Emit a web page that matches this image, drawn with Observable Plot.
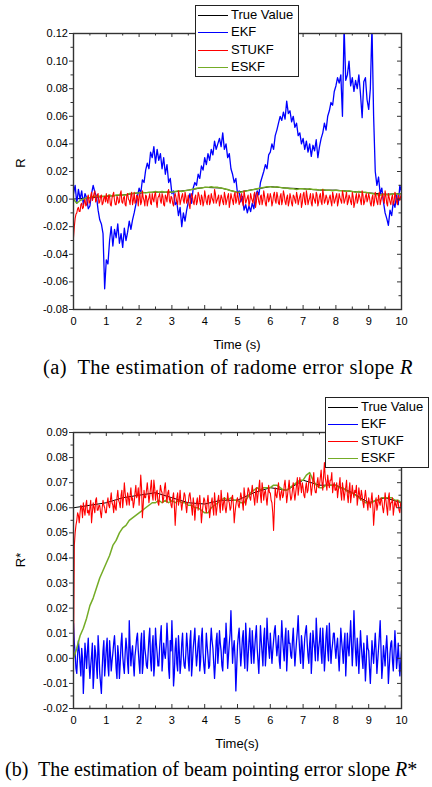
<!DOCTYPE html>
<html><head><meta charset="utf-8">
<script src="https://cdn.jsdelivr.net/npm/d3@7"></script>
<script src="https://cdn.jsdelivr.net/npm/@observablehq/plot@0.6"></script>
<style>
body{margin:0;background:#fff;}
#fig{position:relative;width:432px;height:787px;overflow:hidden;font-family:"Liberation Sans",Arial,sans-serif;color:#000;}
.panel{position:absolute;left:0;}
.legend{position:absolute;border:1px solid #222;background:#fff;box-sizing:border-box;}
.lrow{position:absolute;left:0;height:16px;width:100%;}
.lline{position:absolute;left:2px;width:30px;top:8px;height:0;border-top:1.6px solid;}
.ltext{position:absolute;left:35px;top:0;font-size:13px;line-height:16px;white-space:nowrap;}
.ylab{position:absolute;font-size:13px;transform:translate(-50%,-50%) rotate(-90deg);white-space:nowrap;}
.xlab{position:absolute;font-size:13px;transform:translate(-50%,-50%);white-space:nowrap;}
.cap{position:absolute;font-family:"Liberation Serif","Times New Roman",serif;font-size:20.5px;letter-spacing:0.35px;white-space:nowrap;transform:translateY(-50%);}
.cap.tight{font-size:20px;letter-spacing:0;}
</style></head>
<body><div id="fig"></div>
<script>
// ---------- data ----------
const seriesNames = ["True Value", "EKF", "STUKF", "ESKF"];
const seriesColors = ["#000000", "#0000ff", "#ff0000", "#74ac26"];
const xTicks = [0,1,2,3,4,5,6,7,8,9,10];
const xMinor = [0.5,1.5,2.5,3.5,4.5,5.5,6.5,7.5,8.5,9.5];
const yTicksA = [-0.08,-0.06,-0.04,-0.02,0,0.02,0.04,0.06,0.08,0.10,0.12];
const yMinorA = [-0.07,-0.05,-0.03,-0.01,0.01,0.03,0.05,0.07,0.09,0.11];
const yTicksB = [-0.02,-0.01,0,0.01,0.02,0.03,0.04,0.05,0.06,0.07,0.08,0.09];
const yMinorB = [-0.015,-0.005,0.005,0.015,0.025,0.035,0.045,0.055,0.065,0.075,0.085];

// panel (a): radome error slope R  (true value every 0.5 s)
const trueA = [0.000,0.001,0.002,0.003,0.0045,0.005,0.005,0.0065,0.0085,0.008,0.005,0.007,0.009,0.008,0.0075,0.0065,0.0065,0.0055,0.0045,0.0035,0.004];
// EKF every 0.05 s
const ekfA = [
 0.004,0.010,-0.003,0.007,0.000,0.006,-0.004,0.004,0.001,-0.007,-0.005,0.004,0.010,0.005,0.002,-0.008,-0.015,-0.018,-0.025,-0.065,
 -0.044,-0.047,-0.030,-0.020,-0.034,-0.022,-0.028,-0.018,-0.032,-0.025,-0.035,-0.021,-0.030,-0.024,-0.016,-0.022,-0.015,-0.010,-0.004,0.002,
 0.008,0.004,0.014,0.012,0.021,0.026,0.022,0.034,0.030,0.038,0.026,0.036,0.028,0.033,0.022,0.030,0.018,0.025,0.012,0.015,
 0.004,0.006,-0.004,-0.002,-0.012,-0.006,-0.020,-0.010,-0.016,-0.008,-0.002,0.004,-0.003,0.008,0.012,0.010,0.018,0.015,0.024,0.021,
 0.030,0.025,0.033,0.028,0.036,0.032,0.042,0.036,0.040,0.044,0.038,0.048,0.036,0.040,0.030,0.033,0.022,0.018,0.012,0.015,
 0.004,0.006,-0.002,0.002,-0.008,-0.004,-0.010,-0.005,-0.009,-0.003,-0.007,0.002,0.006,0.003,0.012,0.016,0.020,0.025,0.022,0.032,
 0.034,0.040,0.036,0.046,0.050,0.055,0.060,0.057,0.063,0.058,0.071,0.062,0.064,0.056,0.060,0.052,0.055,0.046,0.048,0.040,
 0.044,0.036,0.042,0.034,0.040,0.031,0.039,0.035,0.043,0.030,0.038,0.044,0.048,0.055,0.050,0.060,0.064,0.070,0.068,0.078,
 0.082,0.088,0.084,0.090,0.060,0.125,0.086,0.090,0.100,0.082,0.088,0.078,0.086,0.080,0.090,0.076,0.059,0.085,0.088,0.072,
 0.065,0.080,0.125,0.060,0.020,0.010,0.016,0.004,0.008,-0.002,-0.010,-0.014,-0.019,-0.008,-0.012,-0.002,-0.006,0.003,-0.004,0.010,
 0.005];
// STUKF every 0.025 s
const stukfA = [
 -0.028,-0.020,-0.014,-0.011,-0.010,-0.007,-0.006,-0.009,-0.009,-0.004,-0.003,-0.007,-0.006,-0.002,0.000,-0.005,-0.004,0.001,0.003,-0.003,
 -0.002,0.002,0.005,-0.001,0.001,0.004,0.006,-0.002,-0.001,0.003,0.004,-0.003,-0.002,0.002,0.003,-0.004,-0.003,0.001,0.002,-0.002,
 0.004,-0.001,-0.003,0.003,0.002,-0.004,-0.005,0.001,0.003,0.005,-0.001,-0.004,-0.004,0.002,0.001,-0.003,-0.002,0.004,0.006,-0.002,
 -0.003,0.001,0.002,-0.004,-0.005,0.003,0.004,0.000,-0.001,-0.004,0.003,0.005,-0.004,-0.001,0.005,-0.003,-0.002,0.003,0.002,-0.005,
 0.002,0.004,-0.004,-0.002,0.006,0.001,-0.001,-0.005,0.003,0.002,-0.005,-0.001,0.001,0.004,-0.003,-0.004,0.004,0.000,-0.002,0.003,
 0.005,-0.002,-0.006,0.001,0.002,0.004,-0.001,-0.003,0.004,0.002,-0.004,-0.005,0.003,0.001,-0.002,0.005,0.007,-0.001,-0.003,0.002,
 0.001,-0.003,-0.005,0.002,0.004,0.001,-0.002,-0.004,0.006,0.003,-0.004,-0.001,0.002,0.004,-0.001,-0.003,0.005,0.002,-0.003,-0.001,
 0.003,-0.004,-0.007,0.000,0.004,0.002,-0.002,-0.004,0.001,0.003,-0.004,-0.002,0.005,0.003,-0.001,-0.004,0.003,0.001,-0.005,-0.002,
 0.006,0.002,-0.002,-0.004,0.002,0.003,-0.004,-0.002,0.004,0.001,-0.001,-0.003,0.007,0.004,-0.003,-0.001,0.001,0.003,-0.005,-0.002,
 0.003,0.001,-0.002,-0.004,0.005,0.002,-0.004,-0.001,0.002,0.004,-0.006,-0.002,0.004,0.001,-0.001,-0.004,0.003,0.005,-0.003,-0.001,
 0.005,0.001,-0.004,-0.002,0.002,0.004,-0.002,-0.005,0.006,0.002,-0.003,-0.001,0.001,0.003,-0.005,-0.002,0.004,0.001,-0.001,-0.003,
 0.003,0.005,-0.006,-0.002,0.005,0.002,-0.002,-0.004,0.002,0.003,-0.004,-0.001,0.006,0.002,-0.003,-0.005,0.001,0.004,-0.002,0.000,
 0.004,0.001,-0.005,-0.002,0.003,0.005,-0.001,-0.003,0.005,0.002,-0.003,-0.004,0.002,0.004,-0.004,-0.001,0.006,0.003,-0.002,-0.004,
 0.001,0.003,-0.005,-0.002,0.004,0.001,-0.003,-0.005,0.003,0.002,-0.001,-0.003,0.005,0.002,-0.004,-0.001,0.002,0.004,-0.006,-0.003,
 0.003,0.005,-0.002,-0.004,0.006,0.002,-0.004,-0.001,0.001,0.004,-0.003,-0.005,0.004,0.001,-0.001,-0.003,0.005,0.003,-0.005,-0.002,
 0.002,0.004,-0.002,-0.004,0.007,0.003,-0.003,-0.001,0.003,0.001,-0.004,-0.002,0.001,0.003,-0.002,-0.005,0.005,0.002,-0.003,-0.001,
 0.002,0.004,-0.005,-0.002,0.004,0.001,-0.001,-0.003,0.006,0.003,-0.003,-0.001,0.002,0.005,-0.004,-0.002,0.003,0.001,-0.002,-0.004,
 0.005,0.002,-0.006,-0.003,0.001,0.004,-0.003,-0.001,0.004,0.002,-0.001,-0.004,0.006,0.003,-0.004,-0.002,0.002,0.004,-0.002,0.000,
 0.004,0.001,-0.003,-0.005,0.001,0.003,-0.005,-0.002,0.005,0.002,-0.002,-0.004,0.003,0.005,-0.004,-0.001,0.002,0.004,-0.001,-0.003,
 0.006,0.002,-0.003,-0.005,0.004,0.001,-0.002,-0.004,0.001,0.003,-0.004,-0.002,0.005,0.002,-0.002,-0.004,0.003,0.001,-0.001,0.002,
 0.004];
// ESKF every 0.1 s
const eskfA = [
 0.000,-0.003,-0.001,0.000,0.001,0.001,0.002,0.002,0.002,0.002,
 0.002,0.003,0.002,0.003,0.003,0.003,0.003,0.004,0.004,0.0045,
 0.0045,0.005,0.0045,0.005,0.005,0.0055,0.005,0.0055,0.005,0.0055,
 0.005,0.0055,0.006,0.0055,0.006,0.0065,0.007,0.0075,0.008,0.008,
 0.0085,0.0085,0.009,0.0085,0.0085,0.008,0.0075,0.007,0.006,0.0055,
 0.005,0.005,0.0055,0.006,0.0065,0.007,0.0075,0.008,0.0085,0.009,
 0.009,0.0085,0.009,0.0085,0.008,0.008,0.0075,0.0075,0.007,0.0075,
 0.0075,0.007,0.0075,0.007,0.007,0.0065,0.007,0.0065,0.0065,0.006,
 0.0065,0.006,0.006,0.0055,0.006,0.0055,0.005,0.0055,0.005,0.005,
 0.0045,0.004,0.0035,0.003,0.003,0.0035,0.003,0.0035,0.004,0.0035,
 0.004];

// panel (b): beam pointing error slope R*
const trueB = [0.060,0.061,0.062,0.064,0.065,0.066,0.064,0.062,0.0615,0.063,0.063,0.066,0.068,0.067,0.071,0.069,0.069,0.066,0.062,0.064,0.062];
// EKF every 0.025 s
const ekfB = [
 0.014,0.006,0.002,-0.004,-0.006,0.001,0.007,0.003,-0.002,-0.007,0.004,0.000,-0.014,-0.005,0.006,0.001,-0.004,0.003,0.008,-0.002,
 -0.008,-0.003,0.001,0.006,-0.012,-0.006,0.005,0.002,-0.003,-0.008,0.009,0.003,-0.006,-0.010,-0.014,-0.004,0.003,0.007,-0.007,-0.002,
 0.004,0.008,-0.003,-0.007,0.007,0.002,-0.005,-0.001,0.002,0.006,0.009,0.003,-0.004,-0.008,0.005,0.001,-0.008,-0.002,0.006,0.010,
 0.001,-0.003,-0.006,0.002,0.008,0.004,-0.002,-0.006,0.015,0.005,-0.003,0.002,0.005,-0.002,-0.007,0.001,0.004,0.008,0.010,0.003,
 -0.002,-0.006,0.006,0.010,-0.006,-0.002,0.011,0.004,0.001,-0.003,-0.004,0.002,0.008,0.012,-0.001,-0.005,0.005,0.009,-0.007,-0.002,
 0.012,0.006,0.002,-0.003,-0.003,0.004,0.009,0.013,-0.005,0.000,0.006,0.002,0.000,0.005,0.014,0.007,-0.004,-0.008,0.007,0.003,
 0.015,0.004,-0.011,-0.006,0.004,0.008,-0.002,-0.005,0.009,0.003,-0.006,-0.002,0.006,0.010,0.001,-0.003,-0.004,0.002,0.010,0.005,
 -0.001,-0.005,0.007,0.011,-0.007,-0.002,0.004,0.008,0.012,0.003,-0.003,0.001,0.006,0.009,-0.005,-0.001,0.008,0.012,0.002,-0.003,
 -0.006,0.001,0.010,0.005,0.001,-0.004,-0.003,0.006,0.012,0.007,0.004,-0.002,-0.008,-0.002,0.007,0.010,-0.002,0.003,0.011,0.006,
 0.003,-0.003,-0.005,0.004,0.008,0.002,0.014,0.007,-0.004,0.001,0.006,0.010,0.019,0.008,-0.002,0.004,0.007,0.000,-0.013,-0.004,
 0.005,0.009,0.012,0.004,-0.003,0.002,0.008,0.011,0.001,-0.004,0.014,0.007,-0.005,0.001,0.007,0.012,0.003,-0.002,0.011,0.005,
 -0.002,0.004,0.009,0.013,0.004,-0.001,-0.006,0.003,0.013,0.007,0.002,-0.003,0.008,0.012,-0.003,0.002,0.016,0.008,0.004,0.000,
 0.010,0.004,-0.002,0.003,0.007,0.011,0.013,0.006,0.001,0.005,0.009,-0.001,-0.004,0.006,0.015,0.008,0.003,-0.001,0.008,0.012,
 -0.005,0.002,0.011,0.006,0.006,0.001,0.000,0.007,0.012,0.004,-0.003,0.002,0.007,0.011,0.017,0.008,0.002,-0.002,0.009,0.005,
 -0.004,0.002,0.008,0.011,0.013,0.006,0.001,-0.002,0.006,0.010,-0.006,0.001,0.011,0.007,0.004,-0.001,0.016,0.009,-0.001,0.004,
 0.007,0.012,0.002,-0.002,0.012,0.005,-0.005,0.001,0.009,0.013,0.003,-0.001,0.014,0.006,-0.002,0.003,0.006,0.010,0.010,0.004,
 0.000,0.005,0.008,0.001,-0.005,0.003,0.012,0.007,0.003,-0.002,0.006,0.010,-0.007,0.001,0.010,0.004,0.001,0.008,0.015,0.006,
 -0.003,0.005,0.019,0.009,0.002,-0.003,0.008,0.003,-0.006,0.002,0.011,0.005,0.000,-0.004,0.006,0.001,-0.009,-0.002,0.009,0.004,
 0.003,-0.004,-0.010,-0.002,0.007,0.002,-0.002,0.004,0.010,0.003,-0.006,-0.001,0.004,0.009,0.015,0.004,-0.008,-0.003,0.005,0.001,
 -0.003,0.004,0.009,0.002,-0.010,-0.004,0.002,0.006,0.007,-0.001,-0.005,0.003,0.011,0.004,-0.004,0.000,0.006,-0.001,-0.007,-0.002,
 0.003];
// STUKF every 0.025 s
const stukfB = [
 0.000,0.045,0.050,0.053,0.055,0.058,0.057,0.054,0.058,0.061,0.060,0.056,0.062,0.059,0.057,0.061,0.063,0.058,0.059,0.057,
 0.060,0.063,0.054,0.058,0.062,0.060,0.058,0.063,0.064,0.059,0.059,0.061,0.061,0.058,0.056,0.060,0.063,0.061,0.060,0.058,
 0.058,0.062,0.064,0.061,0.060,0.063,0.066,0.062,0.061,0.058,0.063,0.060,0.059,0.064,0.067,0.063,0.062,0.060,0.065,0.067,
 0.060,0.064,0.070,0.066,0.063,0.061,0.066,0.064,0.061,0.065,0.068,0.063,0.064,0.060,0.062,0.066,0.069,0.064,0.065,0.068,
 0.061,0.066,0.073,0.068,0.056,0.061,0.067,0.064,0.064,0.067,0.070,0.066,0.062,0.065,0.068,0.071,0.065,0.063,0.071,0.068,
 0.063,0.066,0.067,0.062,0.061,0.065,0.069,0.067,0.066,0.062,0.064,0.068,0.070,0.065,0.062,0.066,0.067,0.063,0.064,0.061,
 0.060,0.064,0.066,0.061,0.053,0.059,0.064,0.066,0.061,0.063,0.067,0.062,0.059,0.062,0.063,0.066,0.065,0.061,0.058,0.062,
 0.062,0.065,0.066,0.063,0.060,0.057,0.064,0.061,0.055,0.060,0.062,0.064,0.059,0.062,0.065,0.060,0.054,0.058,0.061,0.064,
 0.063,0.060,0.058,0.062,0.065,0.061,0.056,0.059,0.062,0.064,0.060,0.057,0.066,0.062,0.057,0.060,0.063,0.065,0.061,0.058,
 0.067,0.063,0.059,0.062,0.064,0.060,0.058,0.061,0.066,0.063,0.062,0.059,0.060,0.064,0.065,0.061,0.054,0.058,0.061,0.063,
 0.064,0.061,0.060,0.063,0.066,0.064,0.062,0.059,0.068,0.065,0.061,0.063,0.065,0.068,0.067,0.064,0.063,0.066,0.069,0.066,
 0.064,0.061,0.066,0.068,0.062,0.065,0.068,0.071,0.065,0.062,0.070,0.067,0.063,0.066,0.067,0.064,0.061,0.065,0.069,0.066,
 0.066,0.063,0.062,0.058,0.051,0.060,0.068,0.065,0.064,0.067,0.070,0.066,0.063,0.066,0.067,0.064,0.065,0.069,0.071,0.067,
 0.062,0.065,0.068,0.071,0.066,0.063,0.064,0.067,0.070,0.066,0.063,0.066,0.069,0.072,0.065,0.068,0.072,0.069,0.066,0.070,
 0.068,0.065,0.064,0.068,0.070,0.066,0.067,0.071,0.073,0.069,0.065,0.068,0.071,0.074,0.068,0.066,0.066,0.070,0.072,0.068,
 0.069,0.072,0.075,0.070,0.067,0.073,0.078,0.072,0.070,0.067,0.073,0.070,0.068,0.071,0.071,0.074,0.066,0.069,0.070,0.067,
 0.067,0.070,0.064,0.067,0.069,0.072,0.066,0.063,0.070,0.067,0.063,0.066,0.068,0.071,0.065,0.062,0.067,0.070,0.062,0.065,
 0.069,0.066,0.064,0.067,0.066,0.069,0.061,0.064,0.068,0.065,0.063,0.067,0.065,0.062,0.060,0.064,0.067,0.064,0.062,0.059,
 0.064,0.062,0.060,0.063,0.066,0.061,0.053,0.058,0.062,0.064,0.059,0.061,0.065,0.062,0.061,0.064,0.063,0.060,0.058,0.061,
 0.066,0.063,0.060,0.057,0.064,0.066,0.059,0.062,0.062,0.064,0.057,0.060,0.063,0.061,0.060,0.063,0.062,0.059,0.058,0.062,
 0.061];
// ESKF every 0.1 s
const eskfB = [
 0.000,0.004,0.009,0.012,0.016,0.021,0.024,0.028,0.032,0.035,
 0.038,0.041,0.045,0.047,0.050,0.052,0.053,0.055,0.056,0.057,
 0.058,0.059,0.060,0.061,0.062,0.062,0.063,0.062,0.063,0.062,
 0.063,0.062,0.063,0.062,0.062,0.061,0.061,0.060,0.060,0.059,
 0.058,0.058,0.060,0.061,0.062,0.063,0.064,0.063,0.064,0.063,
 0.063,0.062,0.062,0.064,0.066,0.067,0.068,0.067,0.068,0.068,
 0.068,0.069,0.069,0.068,0.067,0.067,0.068,0.069,0.070,0.071,
 0.071,0.073,0.074,0.071,0.069,0.068,0.068,0.069,0.069,0.069,
 0.069,0.068,0.068,0.067,0.066,0.066,0.065,0.064,0.063,0.062,
 0.062,0.062,0.063,0.063,0.064,0.064,0.064,0.064,0.063,0.063,
 0.062];

// ---------- drawing ----------
const rows = arr => arr.map((v, i) => ({t: i * 10 / (arr.length - 1), v}));
const AX = "#333";

function panel({yDomain, yTicks, yMinor, series, height, marginTop, marginBottom}) {
  const marginLeft = 73, marginRight = 31, width = 432;
  const pw = width - marginLeft - marginRight, ph = height - marginTop - marginBottom;
  return Plot.plot({
    width, height, marginLeft, marginRight, marginTop, marginBottom,
    x: {domain: [0, 10]},
    y: {domain: yDomain},
    style: {fontFamily: '"Liberation Sans", Arial, sans-serif', fontSize: "11px", color: "#000", background: "transparent"},
    marks: [
      ...series.map(s => Plot.line(rows(s.data), {x: "t", y: "v", stroke: s.color, strokeWidth: s.w, clip: true})),
      Plot.frame({stroke: AX, strokeWidth: 1.4}),
      Plot.axisY(yTicks, {anchor: "left", tickSize: 4, tickPadding: 1.5, tickFormat: d => d.toFixed(2), stroke: AX, fill: "#000", label: null}),
      Plot.axisY(yMinor, {anchor: "left", tickSize: 2.5, fill: "none", stroke: AX, label: null}),
      Plot.tickY(yTicks, {y: d => d, insetLeft: pw - 4, stroke: AX}),
      Plot.tickY(yMinor, {y: d => d, insetLeft: pw - 2.5, stroke: AX}),
      Plot.tickX(xTicks, {x: d => d, insetBottom: ph - 4, stroke: AX}),
      Plot.tickX(xMinor, {x: d => d, insetBottom: ph - 2.5, stroke: AX}),
      Plot.tickX(xTicks, {x: d => d, insetTop: ph - 4, stroke: AX}),
      Plot.tickX(xMinor, {x: d => d, insetTop: ph - 2.5, stroke: AX}),
      Plot.axisX(xTicks, {anchor: "bottom", tickSize: 0, tickPadding: 8, tickFormat: d => String(d), fill: "#000", label: null})
    ]
  });
}

const fig = document.getElementById("fig");

function place(el, top) {
  const d = document.createElement("div");
  d.className = "panel"; d.style.top = top + "px";
  d.appendChild(el); fig.appendChild(d);
}

const widths = [1, 1.3, 1.1, 1.5];
const orderIdx = [0, 1, 3, 2]; // True, EKF, ESKF, STUKF (STUKF on top)

const dataA = [trueA, ekfA, stukfA, eskfA];
const dataB = [trueB, ekfB, stukfB, eskfB];

place(panel({
  yDomain: [-0.08, 0.12], yTicks: yTicksA, yMinor: yMinorA,
  series: orderIdx.map(i => ({data: dataA[i], color: seriesColors[i], w: widths[i]})),
  height: 355, marginTop: 33, marginBottom: 46
}), 0);

place(panel({
  yDomain: [-0.02, 0.09], yTicks: yTicksB, yMinor: yMinorB,
  series: orderIdx.map(i => ({data: dataB[i], color: seriesColors[i], w: widths[i]})),
  height: 365, marginTop: 42, marginBottom: 47
}), 390);

function legend(left, top, w, h, rowTops) {
  const L = document.createElement("div");
  L.className = "legend";
  Object.assign(L.style, {left: left + "px", top: top + "px", width: w + "px", height: h + "px"});
  seriesNames.forEach((name, i) => {
    const r = document.createElement("div");
    r.className = "lrow"; r.style.top = rowTops[i] + "px";
    const ln = document.createElement("div"); ln.className = "lline"; ln.style.borderTopColor = seriesColors[i];
    const tx = document.createElement("div"); tx.className = "ltext"; tx.textContent = name;
    r.appendChild(ln); r.appendChild(tx); L.appendChild(r);
  });
  fig.appendChild(L);
}
legend(195, 5, 104, 72, [1, 18, 36, 53]);
legend(325, 397, 104, 71, [1, 18, 35, 52]);

function label(cls, text, x, y) {
  const d = document.createElement("div");
  d.className = cls; d.textContent = text;
  d.style.left = x + "px"; d.style.top = y + "px";
  fig.appendChild(d);
}
label("ylab", "R", 20, 163);
label("ylab", "R*", 20, 560);
label("xlab", "Time (s)", 237, 344);
label("xlab", "Time(s)", 237, 743);

function caption(html, x, y, extra) {
  const d = document.createElement("div");
  d.className = "cap" + (extra ? " " + extra : ""); d.innerHTML = html;
  d.style.left = x + "px"; d.style.top = y + "px";
  fig.appendChild(d);
}
caption("(a)&nbsp; The estimation of radome error slope <i>R</i>", 43, 367);
caption("(b)&nbsp; The estimation of beam pointing error slope <i>R</i>*", 5, 769, "tight");
</script>
</body></html>
